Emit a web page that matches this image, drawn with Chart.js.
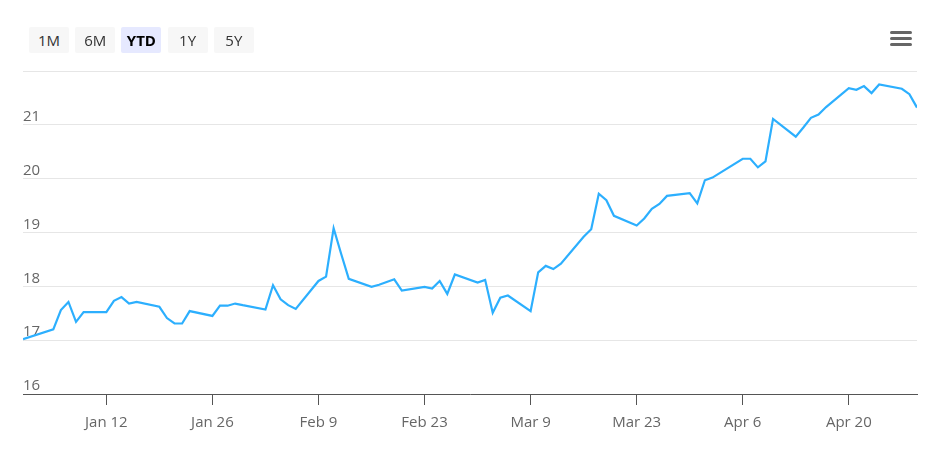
<!DOCTYPE html>
<html>
<head>
<meta charset="utf-8">
<script src="https://cdn.jsdelivr.net/npm/chart.js@4/dist/chart.umd.min.js"></script>
<style>
  html, body { margin: 0; padding: 0; background: #fff; }
  #wrap { position: relative; width: 940px; height: 460px; overflow: hidden; font-family: "Open Sans", "Noto Sans", sans-serif; }
  #c { position: absolute; left: 0; top: 0; }
  .btn { position: absolute; top: 27px; width: 40px; height: 26px; line-height: 26px; background: #f7f7f7; border-radius: 2px; color: #333; font-size: 15px; text-align: center; }
  .btn.sel { background: #e6e9ff; color: #000; font-weight: bold; }
  .bar { position: absolute; left: 890px; width: 22px; height: 3px; background: #666; border-radius: 2px; }
</style>
</head>
<body>
<div id="wrap">
  <canvas id="c" width="940" height="460"></canvas>
</div>
<script>
// ---- data ----
const rangeButtons = ["1M", "6M", "YTD", "1Y", "5Y"];
const selectedButton = "YTD";

const dates = [
  "2015-01-01","2015-01-05","2015-01-06","2015-01-07","2015-01-08","2015-01-09",
  "2015-01-12","2015-01-13","2015-01-14","2015-01-15","2015-01-16",
  "2015-01-19","2015-01-20","2015-01-21","2015-01-22","2015-01-23",
  "2015-01-26","2015-01-27","2015-01-28","2015-01-29","2015-01-30",
  "2015-02-02","2015-02-03","2015-02-04","2015-02-05","2015-02-06",
  "2015-02-09","2015-02-10","2015-02-11","2015-02-12","2015-02-13",
  "2015-02-16","2015-02-17","2015-02-18","2015-02-19","2015-02-20",
  "2015-02-23","2015-02-24","2015-02-25","2015-02-26","2015-02-27",
  "2015-03-02","2015-03-03","2015-03-04","2015-03-05","2015-03-06",
  "2015-03-09","2015-03-10","2015-03-11","2015-03-12","2015-03-13",
  "2015-03-16","2015-03-17","2015-03-18","2015-03-19","2015-03-20",
  "2015-03-23","2015-03-24","2015-03-25","2015-03-26","2015-03-27",
  "2015-03-30","2015-03-31","2015-04-01","2015-04-02",
  "2015-04-06","2015-04-07","2015-04-08","2015-04-09","2015-04-10",
  "2015-04-13","2015-04-14","2015-04-15","2015-04-16","2015-04-17",
  "2015-04-20","2015-04-21","2015-04-22","2015-04-23","2015-04-24",
  "2015-04-27","2015-04-28","2015-04-29"
];
const prices = [
  17.02, 17.20, 17.56, 17.71, 17.34, 17.52,
  17.52, 17.73, 17.80, 17.68, 17.71,
  17.62, 17.41, 17.31, 17.31, 17.54,
  17.45, 17.64, 17.64, 17.68, 17.65,
  17.57, 18.02, 17.76, 17.65, 17.58,
  18.10, 18.18, 19.08, 18.60, 18.14,
  17.99, 18.03, 18.08, 18.13, 17.92,
  17.99, 17.96, 18.10, 17.86, 18.22,
  18.07, 18.12, 17.51, 17.79, 17.83,
  17.54, 18.26, 18.38, 18.32, 18.42,
  18.92, 19.06, 19.72, 19.60, 19.31,
  19.13, 19.26, 19.44, 19.53, 19.68,
  19.73, 19.54, 19.97, 20.02,
  20.37, 20.37, 20.21, 20.32, 21.11,
  20.78, 20.95, 21.13, 21.19, 21.33,
  21.68, 21.65, 21.72, 21.59, 21.75,
  21.67, 21.57, 21.32
];
const xTickDates = ["2015-01-12","2015-01-26","2015-02-09","2015-02-23","2015-03-09","2015-03-23","2015-04-06","2015-04-20"];
const xTickLabels = ["Jan 12","Jan 26","Feb 9","Feb 23","Mar 9","Mar 23","Apr 6","Apr 20"];
const yMin = 16, yMax = 22, yStep = 1;

// ---- helpers ----
const origin = Date.UTC(2015, 0, 1);
function dayOf(s) { const p = s.split("-").map(Number); return (Date.UTC(p[0], p[1]-1, p[2]) - origin) / 864e5; }
const points = dates.map((d, i) => ({ x: dayOf(d), y: prices[i] }));
const tickDays = xTickDates.map(dayOf);

// ---- HTML chrome: range buttons + menu icon ----
const wrap = document.getElementById("wrap");
rangeButtons.forEach((b, i) => {
  const el = document.createElement("div");
  el.className = "btn" + (b === selectedButton ? " sel" : "");
  el.style.left = (29 + i * 46.2) + "px";
  el.textContent = b;
  wrap.appendChild(el);
});
[31, 37, 43].forEach(t => {
  const el = document.createElement("div");
  el.className = "bar";
  el.style.top = t + "px";
  wrap.appendChild(el);
});

// ---- chart ----
Chart.defaults.font.family = '"Open Sans", "Noto Sans", sans-serif';
new Chart(document.getElementById("c"), {
  type: "line",
  data: {
    datasets: [{
      data: points,
      borderColor: "#2caffe",
      borderWidth: 2.2,
      pointRadius: 0,
      tension: 0,
      fill: false
    }]
  },
  options: {
    responsive: false,
    devicePixelRatio: 1,
    animation: false,
    layout: { padding: { left: 23, right: 23, top: 71, bottom: 0 } },
    plugins: { legend: { display: false }, tooltip: { enabled: false } },
    scales: {
      x: {
        type: "linear",
        min: dayOf(dates[0]),
        max: dayOf(dates[dates.length - 1]),
        afterBuildTicks: s => { s.ticks = tickDays.map(v => ({ value: v })); },
        afterFit: s => { s.height = 66; },
        grid: { drawOnChartArea: false, drawTicks: true, tickLength: 11, color: "#555", lineWidth: 1 },
        border: { display: true, color: "#555", width: 1 },
        ticks: {
          padding: 9,
          color: "#666",
          font: { size: 15 },
          maxRotation: 0,
          autoSkip: false,
          callback: v => { const i = tickDays.indexOf(v); return i >= 0 ? xTickLabels[i] : ""; }
        }
      },
      y: {
        min: yMin,
        max: yMax,
        afterFit: s => { s.width = 0; },
        grid: { color: "#e6e6e6", lineWidth: 1, drawTicks: false },
        border: { display: false },
        ticks: {
          stepSize: yStep,
          mirror: true,
          padding: 0,
          labelOffset: -8,
          color: "#666",
          font: { size: 15 },
          callback: v => (v === yMax ? "" : String(v))
        }
      }
    }
  }
});
</script>
</body>
</html>
